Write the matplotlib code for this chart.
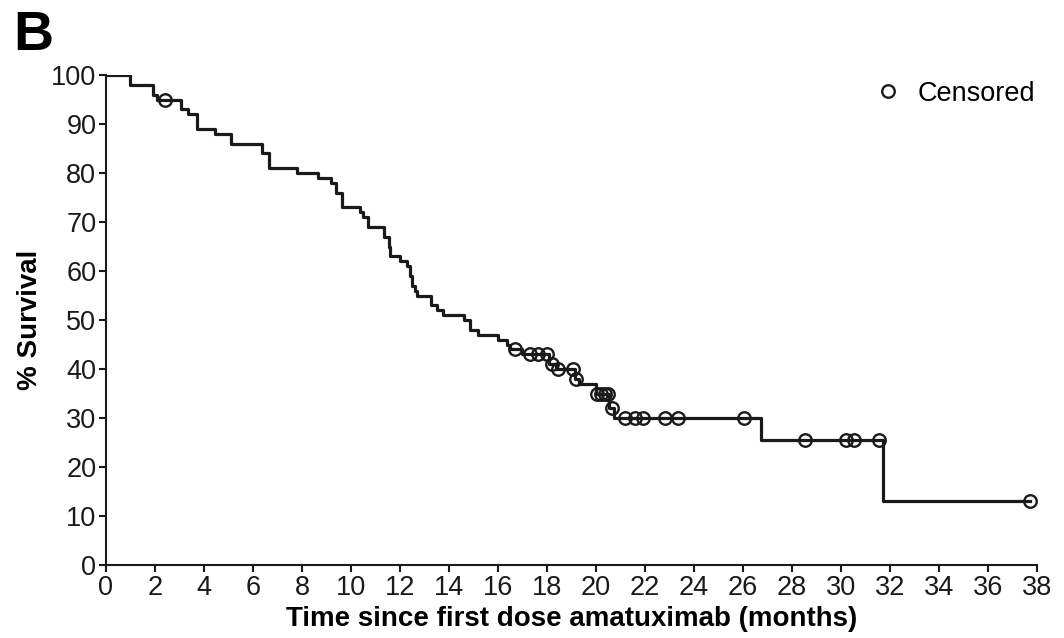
import matplotlib
matplotlib.use("Agg")
import matplotlib.pyplot as plt
from matplotlib.lines import Line2D

plt.rcParams['font.family'] = ['Liberation Sans', 'DejaVu Sans']

# step points of the Kaplan-Meier curve (months, % survival)
event_times = [0, 1.0, 1.9, 2.1, 3.05, 3.35, 3.7, 4.45, 5.1, 6.35, 6.65, 7.8, 8.65,
               9.2, 9.4, 9.65, 10.35, 10.5, 10.7, 11.35, 11.55, 11.6, 12.0, 12.3,
               12.4, 12.5, 12.6, 12.7, 13.25, 13.5, 13.75, 14.6, 14.85, 15.2, 16.0,
               16.35, 16.5, 17.0, 18.1, 18.35, 19.15, 19.3, 20.0, 20.55, 20.75,
               26.75, 31.7, 37.7]
survival = [100, 98, 96, 95, 93, 92, 89, 88, 86, 84, 81, 80, 79,
            78, 76, 73, 72, 71, 69, 67, 65, 63, 62, 61,
            59, 57, 56, 55, 53, 52, 51, 50, 48, 47, 46,
            45, 44, 43, 41, 40, 38, 37, 35, 32, 30,
            25.5, 13.1, 13.1]

# censored observations
censor_times = [2.4, 16.7, 17.3, 17.65, 18.0, 18.2, 18.45, 19.05, 19.2, 20.05, 20.2,
                20.35, 20.5, 20.65, 21.2, 21.6, 21.9, 22.8, 23.35, 26.05, 28.55,
                30.2, 30.55, 31.55, 37.7]
censor_surv = [95, 44, 43, 43, 43, 41, 40, 40, 38, 35, 35,
               35, 35, 32, 30, 30, 30, 30, 30, 30, 25.5,
               25.5, 25.5, 25.5, 13.1]

x_ticks = list(range(0, 39, 2))
y_ticks = list(range(0, 101, 10))

fig = plt.figure(figsize=(10.64, 6.38), dpi=100)
ax = fig.add_axes([0.0996, 0.1144, 0.875, 0.768])

ax.step(event_times, survival, where='post', color='#1a1a1a', lw=2.3)
ax.plot(censor_times, censor_surv, 'o', ms=9, mfc='none', mec='#1a1a1a', mew=1.7)

ax.set_xlim(0, 38)
ax.set_ylim(0, 100)
ax.set_xticks(x_ticks)
ax.set_yticks(y_ticks)
ax.spines['top'].set_visible(False)
ax.spines['right'].set_visible(False)
for s in ['left', 'bottom']:
    ax.spines[s].set_linewidth(1.5)
    ax.spines[s].set_color('#1a1a1a')
ax.tick_params(direction='out', length=5, width=1.5, labelsize=19.5,
               colors='#1a1a1a', pad=2)

ax.set_xlabel('Time since first dose amatuximab (months)', fontsize=20,
              fontweight='bold', labelpad=4)
ax.set_ylabel('% Survival', fontsize=20, fontweight='bold', labelpad=6)

handle = Line2D([], [], marker='o', ls='none', ms=9, mfc='none',
                mec='#1a1a1a', mew=1.7)
ax.legend([handle], ['Censored'], loc='upper right', frameon=False,
          fontsize=19.5, handletextpad=0.1, borderaxespad=0.0,
          bbox_to_anchor=(1.01, 1.01))

fig.text(0.012, 0.985, 'B', fontsize=40, fontweight='bold', va='top', ha='left')

fig.savefig('out.png', dpi=100)
